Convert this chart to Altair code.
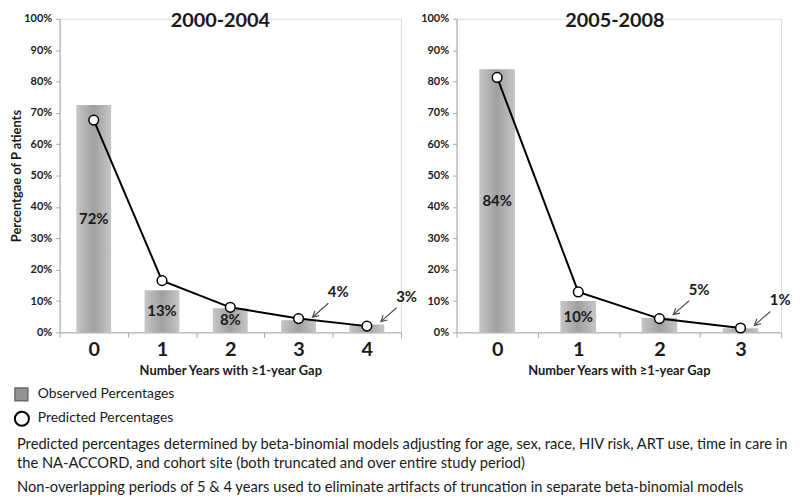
import altair as alt
import pandas as pd

FONT = "Lato"
TXT = "#1a1a1a"
AX = "#a8a8a8"

# ---- data ----
left_cats = ["0", "1", "2", "3", "4"]
left_observed = [72.5, 13.4, 7.7, 3.9, 2.5]
left_predicted = [67.7, 16.5, 8.0, 4.4, 2.0]
left_labels = ["72%", "13%", "8%", "4%", "3%"]
left_label_inside = [True, True, True, False, False]

right_cats = ["0", "1", "2", "3"]
right_observed = [83.9, 10.0, 4.7, 1.3]
right_predicted = [81.3, 12.9, 4.4, 1.4]
right_labels = ["84%", "10%", "5%", "1%"]
right_label_inside = [True, True, False, False]

y_ticks = list(range(0, 101, 10))

x_title = "Number Years with \u22651-year Gap"
y_title = "Percentgae of P atients"
legend_obs = "Observed Percentages"
legend_pred = "Predicted Percentages"
note1 = ["Predicted percentages determined by beta-binomial models adjusting for age, sex, race, HIV risk, ART use, time in care in",
         "the NA-ACCORD, and cohort site (both truncated and over entire study period)"]
note2 = "Non-overlapping periods of 5 & 4 years used to eliminate artifacts of truncation in separate beta-binomial models"

ARROW = "M16,-14L0,0M6.8,-1.6L0,0L2.5,-6.5"

bar_fill = alt.Gradient(
    gradient="linear",
    stops=[alt.GradientStop(color="#c6c6c6", offset=0),
           alt.GradientStop(color="#a0a0a0", offset=0.5),
           alt.GradientStop(color="#c6c6c6", offset=1)],
    x1=0, x2=1, y1=0, y2=0)


def panel(cats, obs, pred, labels, inside, title, width, bar_frac, title_dx, ytitle, legend=False):
    df = pd.DataFrame({"k": cats, "obs": obs, "pred": pred, "label": labels, "inside": inside})
    base = alt.Chart(df)
    xaxis = alt.Axis(title=x_title, labelAngle=0, tickBand="extent")
    yaxis = alt.Axis(values=y_ticks, labelExpr="datum.value + '%'", grid=False,
                     labelOverlap=False, title=ytitle if ytitle else None)
    yscale = alt.Scale(domain=[0, 100], nice=False)
    xscale = alt.Scale(paddingInner=0, paddingOuter=0)

    def X():
        return alt.X("k:N", sort=None, scale=xscale, axis=xaxis)

    def Y(f):
        return alt.Y(f, scale=yscale, axis=yaxis)

    bars = base.mark_bar(width=alt.RelativeBandSize(bar_frac), color=bar_fill).encode(
        x=X(), y=Y("obs:Q"))
    in_lab = base.transform_filter("datum.inside").transform_calculate(
        mid="datum.obs / 2").mark_text(
        font=FONT, fontSize=15, fontWeight="bold", color=TXT, baseline="middle").encode(
        x=X(), y=Y("mid:Q"), text="label:N")
    line = base.mark_line(color="black", strokeWidth=2).encode(x=X(), y=Y("pred:Q"))
    pts = base.mark_point(shape="circle", filled=True, fill="white", stroke="black",
                          strokeWidth=1.5, size=95, opacity=1).encode(x=X(), y=Y("pred:Q"))
    out_lab = base.transform_filter("!datum.inside").mark_text(
        font=FONT, fontSize=15, fontWeight="bold", color=TXT, baseline="middle",
        dx=40, dy=-28).encode(x=X(), y=Y("obs:Q"), text="label:N")
    arrows = base.transform_filter("!datum.inside").mark_point(
        shape=ARROW, size=4, filled=False, stroke="#505050", strokeWidth=1.2,
        opacity=1, xOffset=14, yOffset=-3).encode(x=X(), y=Y("obs:Q"))
    ttl = alt.Chart(pd.DataFrame({"t": [title]})).mark_text(
        font=FONT, fontSize=20, fontWeight="bold", color=TXT, baseline="middle").encode(
        text="t:N", x=alt.value(width / 2 + title_dx), y=alt.value(2))

    layers = [bars, in_lab, line, pts, out_lab, arrows, ttl]

    if legend:
        one = pd.DataFrame({"t": [legend_obs]})
        sq = alt.Chart(one).mark_rect(fill="#939393", stroke="#6a6a6a", strokeWidth=1.5).encode(
            x=alt.value(-45), x2=alt.value(-32), y=alt.value(372), y2=alt.value(385))
        t1 = alt.Chart(one).mark_text(font=FONT, fontSize=14, color=TXT, align="left",
                                      baseline="middle").encode(
            text="t:N", x=alt.value(-22), y=alt.value(378))
        two = pd.DataFrame({"t": [legend_pred]})
        circ = alt.Chart(two).mark_point(shape="circle", filled=False, stroke="black",
                                         strokeWidth=2, size=200, opacity=1).encode(
            x=alt.value(-38), y=alt.value(403))
        t2 = alt.Chart(two).mark_text(font=FONT, fontSize=14, color=TXT, align="left",
                                      baseline="middle").encode(
            text="t:N", x=alt.value(-22), y=alt.value(402))
        n1 = alt.Chart(pd.DataFrame({"t": [note1]})).mark_text(
            font=FONT, fontSize=14.8, color=TXT, align="left", baseline="middle",
            lineHeight=20).encode(text="t", x=alt.value(-43), y=alt.value(429))
        n2 = alt.Chart(pd.DataFrame({"t": [note2]})).mark_text(
            font=FONT, fontSize=14.8, color=TXT, align="left", baseline="middle").encode(
            text="t:N", x=alt.value(-43), y=alt.value(473))
        layers += [sq, t1, circ, t2, n1, n2]

    return alt.layer(*layers).properties(width=width, height=316)


left = panel(left_cats, left_observed, left_predicted, left_labels, left_label_inside,
             "2000-2004", 344, 0.51, -10, y_title, legend=True)
right = panel(right_cats, right_observed, right_predicted, right_labels, right_label_inside,
              "2005-2008", 327, 0.44, -4, None)

chart = alt.hconcat(left, right, spacing=56, bounds="flush").properties(
    padding={"top": 0, "left": 2, "right": 0, "bottom": 0}
).configure_view(stroke=None).configure(font=FONT).configure_axisY(
    labelFont=FONT, labelFontSize=11, labelFontWeight="bold", labelColor=TXT,
    labelPadding=4, tickSize=4, tickColor=AX, domainColor=AX,
    titleFont=FONT, titleFontSize=13, titleFontWeight="bold", titleColor=TXT,
    titlePadding=0
).configure_axisX(
    labelFont=FONT, labelFontSize=20, labelFontWeight="bold", labelColor=TXT,
    labelPadding=2, tickSize=5, tickColor=AX, domainColor=AX,
    titleFont=FONT, titleFontSize=13, titleFontWeight="bold", titleColor=TXT,
    titlePadding=5
)

chart.save("out.html", embed_options={"renderer": "svg", "actions": False})
